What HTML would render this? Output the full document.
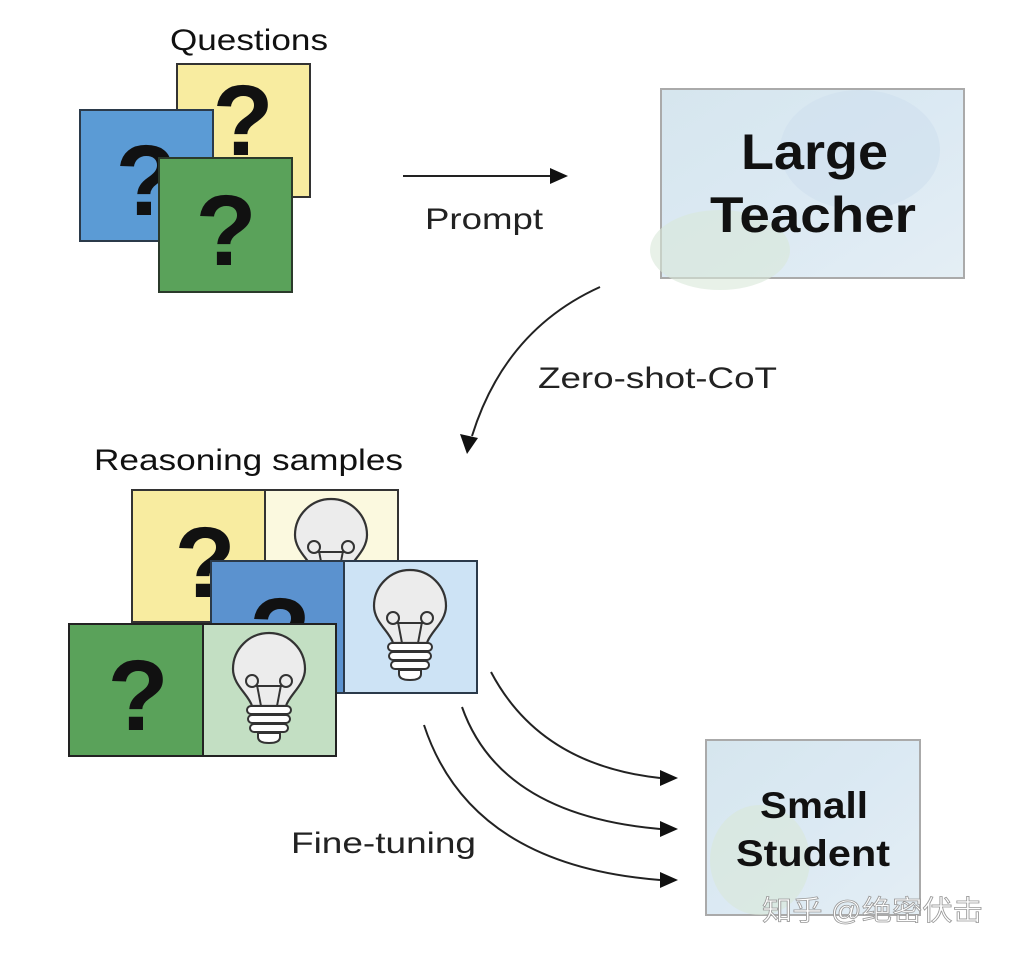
<!DOCTYPE html>
<html><head><meta charset="utf-8"><style>
html,body{margin:0;padding:0;background:#fff;}
svg{display:block;}
text{font-family:"Liberation Sans",Arial,sans-serif;}
</style></head><body>
<svg width="1010" height="956" viewBox="0 0 1010 956" xmlns="http://www.w3.org/2000/svg">
<defs>
<g id="bulb">
  <path d="M -17 16 C -20 5, -36 -5, -36 -21 A 36 36 0 1 1 36 -21 C 36 -5, 20 5, 17 16 Z" fill="#ececec" stroke="#333" stroke-width="2.2"/>
  <circle cx="-17" cy="-9" r="6" fill="none" stroke="#333" stroke-width="2"/>
  <circle cx="17" cy="-9" r="6" fill="none" stroke="#333" stroke-width="2"/>
  <line x1="-12" y1="-5" x2="-8" y2="16" stroke="#333" stroke-width="2"/>
  <line x1="12" y1="-5" x2="8" y2="16" stroke="#333" stroke-width="2"/>
  <line x1="-13" y1="-4" x2="13" y2="-4" stroke="#333" stroke-width="2"/>
  <rect x="-22" y="16" width="44" height="8" rx="4" fill="#fff" stroke="#333" stroke-width="2"/>
  <rect x="-21" y="25" width="42" height="8" rx="4" fill="#fff" stroke="#333" stroke-width="2"/>
  <rect x="-19" y="34" width="38" height="8" rx="4" fill="#fff" stroke="#333" stroke-width="2"/>
  <path d="M -11 43 L 11 43 L 11 47 Q 11 53 0 53 Q -11 53 -11 47 Z" fill="#fff" stroke="#333" stroke-width="2"/>
</g>
<linearGradient id="tg" x1="0" y1="0" x2="1" y2="1">
  <stop offset="0" stop-color="#d6e6ee"/><stop offset="0.5" stop-color="#dbe9f3"/><stop offset="1" stop-color="#e4eef4"/>
</linearGradient>
</defs>

<!-- Questions -->
<text x="170" y="50" font-size="30" fill="#111" textLength="158" lengthAdjust="spacingAndGlyphs">Questions</text>
<rect x="177" y="64" width="133" height="133" fill="#f8eca0" stroke="#333" stroke-width="2"/>
<text x="243" y="155" font-size="100" font-weight="bold" text-anchor="middle" fill="#111">?</text>
<rect x="80" y="110" width="133" height="131" fill="#5b9bd5" stroke="#2b3a4a" stroke-width="2"/>
<text x="146" y="215" font-size="100" font-weight="bold" text-anchor="middle" fill="#111">?</text>
<rect x="159" y="158" width="133" height="134" fill="#5aa25a" stroke="#2b3a2b" stroke-width="2"/>
<text x="226" y="265" font-size="100" font-weight="bold" text-anchor="middle" fill="#111">?</text>

<!-- Prompt arrow -->
<line x1="403" y1="176" x2="552" y2="176" stroke="#222" stroke-width="2"/>
<polygon points="568,176 550,168 550,184" fill="#111"/>
<text x="425" y="229" font-size="30" fill="#222" textLength="118" lengthAdjust="spacingAndGlyphs">Prompt</text>

<!-- Large Teacher -->
<rect x="661" y="89" width="303" height="189" fill="url(#tg)" stroke="#aaa" stroke-width="2"/>
<ellipse cx="860" cy="150" rx="80" ry="60" fill="#cfe0ee" opacity="0.6"/>
<ellipse cx="720" cy="250" rx="70" ry="40" fill="#d8e8d8" opacity="0.6"/>
<text x="741" y="169" font-size="50" font-weight="bold" fill="#111" textLength="147" lengthAdjust="spacingAndGlyphs">Large</text>
<text x="710" y="232" font-size="50" font-weight="bold" fill="#111" textLength="206" lengthAdjust="spacingAndGlyphs">Teacher</text>

<!-- Zero-shot arrow -->
<path d="M 600 287 Q 505 330 472 436" fill="none" stroke="#222" stroke-width="2"/>
<polygon points="467,454 460,434 478,438" fill="#111"/>
<text x="538" y="388" font-size="30" fill="#222" textLength="239" lengthAdjust="spacingAndGlyphs">Zero-shot-CoT</text>

<!-- Reasoning samples -->
<text x="94" y="470" font-size="30" fill="#111" textLength="309" lengthAdjust="spacingAndGlyphs">Reasoning samples</text>
<rect x="132" y="490" width="133" height="132" fill="#f8eca0" stroke="#333" stroke-width="2"/>
<text x="205" y="597" font-size="100" font-weight="bold" text-anchor="middle" fill="#111">?</text>
<rect x="265" y="490" width="133" height="132" fill="#fbf9df" stroke="#333" stroke-width="2"/>
<use href="#bulb" x="331" y="556"/>
<rect x="211" y="561" width="133" height="132" fill="#5b92cf" stroke="#2b3a4a" stroke-width="2"/>
<text x="280" y="668" font-size="100" font-weight="bold" text-anchor="middle" fill="#111">?</text>
<rect x="344" y="561" width="133" height="132" fill="#cde3f5" stroke="#2b3a4a" stroke-width="2"/>
<use href="#bulb" x="410" y="627"/>
<rect x="69" y="624" width="134" height="132" fill="#5aa25a" stroke="#222" stroke-width="2"/>
<text x="138" y="730" font-size="100" font-weight="bold" text-anchor="middle" fill="#111">?</text>
<rect x="203" y="624" width="133" height="132" fill="#c3dfc3" stroke="#222" stroke-width="2"/>
<use href="#bulb" x="269" y="690"/>

<!-- Fine-tuning arrows -->
<path d="M 491 672 Q 540 765 660 778" fill="none" stroke="#222" stroke-width="2"/>
<polygon points="678,778 660,770 660,786" fill="#111"/>
<path d="M 462 707 Q 500 815 660 829" fill="none" stroke="#222" stroke-width="2"/>
<polygon points="678,829 660,821 660,837" fill="#111"/>
<path d="M 424 725 Q 470 865 660 880" fill="none" stroke="#222" stroke-width="2"/>
<polygon points="678,880 660,872 660,888" fill="#111"/>
<text x="291" y="853" font-size="30" fill="#222" textLength="185" lengthAdjust="spacingAndGlyphs">Fine-tuning</text>

<!-- Small Student -->
<rect x="706" y="740" width="214" height="175" fill="url(#tg)" stroke="#aaa" stroke-width="2"/>
<ellipse cx="760" cy="860" rx="50" ry="55" fill="#d8e8d8" opacity="0.6"/>
<text x="760" y="818" font-size="37" font-weight="bold" fill="#111" textLength="108" lengthAdjust="spacingAndGlyphs">Small</text>
<text x="736" y="866" font-size="37" font-weight="bold" fill="#111" textLength="154" lengthAdjust="spacingAndGlyphs">Student</text>
<text x="762" y="920" font-size="28" fill="#fff" stroke="#999" stroke-width="0.8" textLength="221" lengthAdjust="spacingAndGlyphs" style='font-family:"Liberation Sans","Noto Sans CJK SC",sans-serif'>知乎 @绝密伏击</text>
</svg>
</body></html>
